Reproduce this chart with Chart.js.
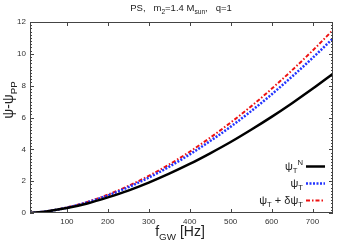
<!DOCTYPE html>
<html><head><meta charset="utf-8">
<script src="https://cdn.jsdelivr.net/npm/chart.js@4"></script>
<style>html,body{margin:0;padding:0;background:#fff}#w{width:345px;height:242px}</style>
</head><body><div id="w"><canvas id="c"></canvas></div>
<script>
const freq = [10,50,100,150,200,250,300,350,400,450,500,550,600,650,700,750];
const psiN = [0,0.10,0.31,0.60,0.98,1.41,1.91,2.47,3.08,3.75,4.46,5.23,6.04,6.90,7.80,8.75];
const psiT = [0,0.10,0.33,0.67,1.10,1.62,2.22,2.91,3.68,4.52,5.42,6.40,7.45,8.57,9.74,10.97];
const psiTd = [0,0.10,0.35,0.70,1.15,1.70,2.33,3.05,3.85,4.73,5.68,6.70,7.80,8.97,10.20,11.50];
const xTicks = [100,200,300,400,500,600,700];
const yTicks = [0,2,4,6,8,10,12];

const FONT = '"Liberation Sans", Arial, sans-serif';
const pts = v => freq.map((f,i)=>({x:f,y:v[i]}));

function rich(ctx, parts, x, y, size, align){
  let w = 0;
  const segs = parts.map(p=>{
    const s = p.s ? size*0.7 : size;
    ctx.font = s+'px '+FONT;
    const m = ctx.measureText(p.t).width;
    w += m;
    return {t:p.t, s:p.s, size:s, w:m};
  });
  let cx = align==='right' ? x-w : align==='center' ? x-w/2 : x;
  ctx.textAlign='left'; ctx.textBaseline='alphabetic';
  segs.forEach(g=>{
    ctx.font = g.size+'px '+FONT;
    let dy = 0;
    if(g.s==='sub') dy = size*0.3;
    if(g.s==='sup') dy = -size*0.45;
    ctx.fillText(g.t, cx, y+dy);
    cx += g.w;
  });
  return w;
}

const deco = {
  id:'deco',
  afterDraw(chart){
    const ctx = chart.ctx, a = chart.chartArea;
    const xs = chart.scales.x, ys = chart.scales.y;
    ctx.save();
    ctx.strokeStyle='#444'; ctx.lineWidth=1;
    ctx.strokeRect(a.left+0.5, a.top+0.5, a.right-a.left-1, a.bottom-a.top-1);
    ctx.beginPath();
    xTicks.forEach(v=>{
      const px = Math.round(xs.getPixelForValue(v))+0.5;
      ctx.moveTo(px,a.bottom); ctx.lineTo(px,a.bottom-4);
      ctx.moveTo(px,a.top); ctx.lineTo(px,a.top+4);
    });
    for(let k=0;k<=60;k++){
      const v = k*0.2;
      const py = Math.round(ys.getPixelForValue(v))+0.5;
      const len = (k%10===0)?4:2;
      ctx.moveTo(a.left,py); ctx.lineTo(a.left+len,py);
      ctx.moveTo(a.right,py); ctx.lineTo(a.right-len,py);
    }
    ctx.stroke();

    ctx.fillStyle='#222';
    rich(ctx,[{t:'PS,   m'},{t:'2',s:'sub'},{t:'=1.4 M'},{t:'sun',s:'sub'},{t:',   q=1'}],181,11,9.5,'center');
    rich(ctx,[{t:'f'},{t:'GW',s:'sub'},{t:' [Hz]'}],180,236,14,'center');
    ctx.save();
    ctx.translate(13,100); ctx.rotate(-Math.PI/2);
    rich(ctx,[{t:'ψ-ψ'},{t:'PP',s:'sub'}],0,0,14,'center');
    ctx.restore();

    const rows = [
      {parts:[{t:'ψ'},{t:'T',s:'sub'},{t:'N',s:'sup'}], y:170, color:'#000', dash:[], w:2.5},
      {parts:[{t:'ψ'},{t:'T',s:'sub'}], y:187, color:'#2233ff', dash:[2,1.5], w:2.5},
      {parts:[{t:'ψ'},{t:'T',s:'sub'},{t:' + δψ'},{t:'T',s:'sub'}], y:204, color:'#ee1111', dash:[4,2,1.5,2], w:2}
    ];
    rows.forEach(r=>{
      ctx.fillStyle='#222';
      rich(ctx,r.parts,303,r.y,11,'right');
      ctx.beginPath();
      ctx.setLineDash(r.dash);
      ctx.strokeStyle=r.color; ctx.lineWidth=r.w;
      ctx.moveTo(306,r.y-3.5); ctx.lineTo(325,r.y-3.5);
      ctx.stroke();
    });
    ctx.restore();
  }
};

new Chart(document.getElementById('c'),{
  type:'line',
  data:{datasets:[
    {data:pts(psiN), borderColor:'#000', borderWidth:2.5, pointRadius:0, cubicInterpolationMode:'monotone'},
    {data:pts(psiT), borderColor:'#2233ff', borderWidth:2.5, borderDash:[2,1.5], pointRadius:0, cubicInterpolationMode:'monotone'},
    {data:pts(psiTd), borderColor:'#ee1111', borderWidth:2, borderDash:[4,2,1.5,2], pointRadius:0, cubicInterpolationMode:'monotone'}
  ]},
  options:{
    responsive:true, maintainAspectRatio:false, animation:false,
    layout:{padding:{left:0,top:22,right:12,bottom:0}},
    plugins:{legend:{display:false},tooltip:{enabled:false},title:{display:false}},
    scales:{
      x:{type:'linear',min:10,max:750,
        afterBuildTicks:s=>{s.ticks=xTicks.map(v=>({value:v}));},
        afterFit:s=>{s.height=29;},
        grid:{display:false,drawTicks:false}, border:{display:false},
        ticks:{padding:4,color:'#333',font:{size:8,family:FONT},maxRotation:0}},
      y:{min:0,max:12,
        afterBuildTicks:s=>{s.ticks=yTicks.map(v=>({value:v}));},
        afterFit:s=>{s.width=30;},
        grid:{display:false,drawTicks:false}, border:{display:false},
        ticks:{padding:4,color:'#333',font:{size:8,family:FONT}}}
    }
  },
  plugins:[deco]
});
</script></body></html>
